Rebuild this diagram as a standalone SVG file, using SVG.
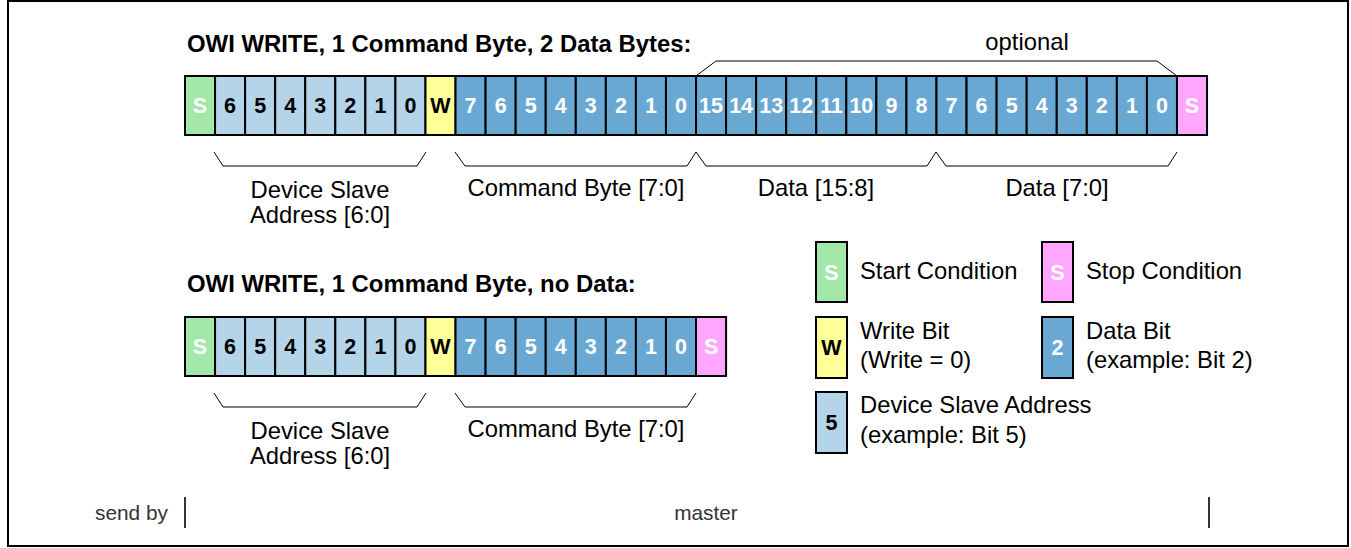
<svg xmlns="http://www.w3.org/2000/svg" width="1351" height="548" viewBox="0 0 1351 548">
<style>
.cell{stroke:#000;stroke-width:2}
.st{fill:#a3e8a8}.ad{fill:#b4d4ea}.wr{fill:#ffff99}.da{fill:#6aa8d4}.sp{fill:#ffa6ff}
.b{font-family:"Liberation Sans",Arial,sans-serif;font-weight:bold;font-size:21.5px;text-anchor:middle}
.w{fill:#fff}.k{fill:#000}
.t{font-family:"Liberation Sans",Arial,sans-serif;font-weight:bold;font-size:23.9px;fill:#000}
.l{font-family:"Liberation Sans",Arial,sans-serif;font-size:23.8px;fill:#000}
.m{text-anchor:middle}
.s{font-family:"Liberation Sans",Arial,sans-serif;font-size:20.8px;fill:#333}
.br{fill:none;stroke:#000;stroke-width:1}
</style>
<rect x="8" y="1" width="1340" height="545" fill="#fff" stroke="#000" stroke-width="2"/>
<text class="t" x="187" y="52">OWI WRITE, 1 Command Byte, 2 Data Bytes:</text>
<text class="l m" x="1027" y="50">optional</text>
<g id="row1">
<g id="r1-start"><rect class="cell st" x="185" y="76" width="30.06" height="59"/><text class="b w" x="200.03" y="113">S</text></g>
<g id="r1-a6"><rect class="cell ad" x="215.06" y="76" width="30.06" height="59"/><text class="b k" x="230.09" y="113">6</text></g>
<g id="r1-a5"><rect class="cell ad" x="245.12" y="76" width="30.06" height="59"/><text class="b k" x="260.15" y="113">5</text></g>
<g id="r1-a4"><rect class="cell ad" x="275.18" y="76" width="30.06" height="59"/><text class="b k" x="290.21" y="113">4</text></g>
<g id="r1-a3"><rect class="cell ad" x="305.24" y="76" width="30.06" height="59"/><text class="b k" x="320.27" y="113">3</text></g>
<g id="r1-a2"><rect class="cell ad" x="335.3" y="76" width="30.06" height="59"/><text class="b k" x="350.33" y="113">2</text></g>
<g id="r1-a1"><rect class="cell ad" x="365.36" y="76" width="30.06" height="59"/><text class="b k" x="380.39" y="113">1</text></g>
<g id="r1-a0"><rect class="cell ad" x="395.42" y="76" width="30.06" height="59"/><text class="b k" x="410.45" y="113">0</text></g>
<g id="r1-w"><rect class="cell wr" x="425.48" y="76" width="30.06" height="59"/><text class="b k" x="440.51" y="113">W</text></g>
<g id="r1-c7"><rect class="cell da" x="455.54" y="76" width="30.06" height="59"/><text class="b w" x="470.57" y="113">7</text></g>
<g id="r1-c6"><rect class="cell da" x="485.6" y="76" width="30.06" height="59"/><text class="b w" x="500.63" y="113">6</text></g>
<g id="r1-c5"><rect class="cell da" x="515.66" y="76" width="30.06" height="59"/><text class="b w" x="530.69" y="113">5</text></g>
<g id="r1-c4"><rect class="cell da" x="545.72" y="76" width="30.06" height="59"/><text class="b w" x="560.75" y="113">4</text></g>
<g id="r1-c3"><rect class="cell da" x="575.78" y="76" width="30.06" height="59"/><text class="b w" x="590.81" y="113">3</text></g>
<g id="r1-c2"><rect class="cell da" x="605.84" y="76" width="30.06" height="59"/><text class="b w" x="620.87" y="113">2</text></g>
<g id="r1-c1"><rect class="cell da" x="635.9" y="76" width="30.06" height="59"/><text class="b w" x="650.93" y="113">1</text></g>
<g id="r1-c0"><rect class="cell da" x="665.96" y="76" width="30.06" height="59"/><text class="b w" x="680.99" y="113">0</text></g>
<g id="r1-d15"><rect class="cell da" x="696.02" y="76" width="30.06" height="59"/><text class="b w" x="711.05" y="113">15</text></g>
<g id="r1-d14"><rect class="cell da" x="726.08" y="76" width="30.06" height="59"/><text class="b w" x="741.11" y="113">14</text></g>
<g id="r1-d13"><rect class="cell da" x="756.14" y="76" width="30.06" height="59"/><text class="b w" x="771.17" y="113">13</text></g>
<g id="r1-d12"><rect class="cell da" x="786.2" y="76" width="30.06" height="59"/><text class="b w" x="801.23" y="113">12</text></g>
<g id="r1-d11"><rect class="cell da" x="816.26" y="76" width="30.06" height="59"/><text class="b w" x="831.29" y="113">11</text></g>
<g id="r1-d10"><rect class="cell da" x="846.32" y="76" width="30.06" height="59"/><text class="b w" x="861.35" y="113">10</text></g>
<g id="r1-d9"><rect class="cell da" x="876.38" y="76" width="30.06" height="59"/><text class="b w" x="891.41" y="113">9</text></g>
<g id="r1-d8"><rect class="cell da" x="906.44" y="76" width="30.06" height="59"/><text class="b w" x="921.47" y="113">8</text></g>
<g id="r1-d7"><rect class="cell da" x="936.5" y="76" width="30.06" height="59"/><text class="b w" x="951.53" y="113">7</text></g>
<g id="r1-d6"><rect class="cell da" x="966.56" y="76" width="30.06" height="59"/><text class="b w" x="981.59" y="113">6</text></g>
<g id="r1-d5"><rect class="cell da" x="996.62" y="76" width="30.06" height="59"/><text class="b w" x="1011.65" y="113">5</text></g>
<g id="r1-d4"><rect class="cell da" x="1026.68" y="76" width="30.06" height="59"/><text class="b w" x="1041.71" y="113">4</text></g>
<g id="r1-d3"><rect class="cell da" x="1056.74" y="76" width="30.06" height="59"/><text class="b w" x="1071.77" y="113">3</text></g>
<g id="r1-d2"><rect class="cell da" x="1086.8" y="76" width="30.06" height="59"/><text class="b w" x="1101.83" y="113">2</text></g>
<g id="r1-d1"><rect class="cell da" x="1116.86" y="76" width="30.06" height="59"/><text class="b w" x="1131.89" y="113">1</text></g>
<g id="r1-d0"><rect class="cell da" x="1146.92" y="76" width="30.06" height="59"/><text class="b w" x="1161.95" y="113">0</text></g>
<g id="r1-stop"><rect class="cell sp" x="1176.98" y="76" width="30.06" height="59"/><text class="b w" x="1192.01" y="113">S</text></g>
</g>
<text class="t" x="187" y="292">OWI WRITE, 1 Command Byte, no Data:</text>
<g id="row2">
<g id="r2-start"><rect class="cell st" x="185" y="317" width="30.06" height="59"/><text class="b w" x="200.03" y="354">S</text></g>
<g id="r2-a6"><rect class="cell ad" x="215.06" y="317" width="30.06" height="59"/><text class="b k" x="230.09" y="354">6</text></g>
<g id="r2-a5"><rect class="cell ad" x="245.12" y="317" width="30.06" height="59"/><text class="b k" x="260.15" y="354">5</text></g>
<g id="r2-a4"><rect class="cell ad" x="275.18" y="317" width="30.06" height="59"/><text class="b k" x="290.21" y="354">4</text></g>
<g id="r2-a3"><rect class="cell ad" x="305.24" y="317" width="30.06" height="59"/><text class="b k" x="320.27" y="354">3</text></g>
<g id="r2-a2"><rect class="cell ad" x="335.3" y="317" width="30.06" height="59"/><text class="b k" x="350.33" y="354">2</text></g>
<g id="r2-a1"><rect class="cell ad" x="365.36" y="317" width="30.06" height="59"/><text class="b k" x="380.39" y="354">1</text></g>
<g id="r2-a0"><rect class="cell ad" x="395.42" y="317" width="30.06" height="59"/><text class="b k" x="410.45" y="354">0</text></g>
<g id="r2-w"><rect class="cell wr" x="425.48" y="317" width="30.06" height="59"/><text class="b k" x="440.51" y="354">W</text></g>
<g id="r2-c7"><rect class="cell da" x="455.54" y="317" width="30.06" height="59"/><text class="b w" x="470.57" y="354">7</text></g>
<g id="r2-c6"><rect class="cell da" x="485.6" y="317" width="30.06" height="59"/><text class="b w" x="500.63" y="354">6</text></g>
<g id="r2-c5"><rect class="cell da" x="515.66" y="317" width="30.06" height="59"/><text class="b w" x="530.69" y="354">5</text></g>
<g id="r2-c4"><rect class="cell da" x="545.72" y="317" width="30.06" height="59"/><text class="b w" x="560.75" y="354">4</text></g>
<g id="r2-c3"><rect class="cell da" x="575.78" y="317" width="30.06" height="59"/><text class="b w" x="590.81" y="354">3</text></g>
<g id="r2-c2"><rect class="cell da" x="605.84" y="317" width="30.06" height="59"/><text class="b w" x="620.87" y="354">2</text></g>
<g id="r2-c1"><rect class="cell da" x="635.9" y="317" width="30.06" height="59"/><text class="b w" x="650.93" y="354">1</text></g>
<g id="r2-c0"><rect class="cell da" x="665.96" y="317" width="30.06" height="59"/><text class="b w" x="680.99" y="354">0</text></g>
<g id="r2-stop"><rect class="cell sp" x="696.02" y="317" width="30.06" height="59"/><text class="b w" x="711.05" y="354">S</text></g>
</g>
<g id="connectors">
<path class="br" d="M696 76 L716 61 L1157 61 L1177 76" stroke="#444"/>
<path class="br" d="M214 152 L223 166 L417 166 L426 152"/>
<path class="br" d="M455 152 L465 166 L687 166 L696 152 L706 166 L927 166 L936 152 L946 166 L1168 166 L1177 152"/>
<path class="br" d="M214 393 L223 407 L417 407 L426 393"/>
<path class="br" d="M455 393 L465 407 L687 407 L696 393"/>
<path d="M185 497 V528 M1209 497 V528" stroke="#333" stroke-width="2"/>
</g>
<g id="labels1">
<text class="l m" x="320" y="198">Device Slave</text>
<text class="l m" x="320" y="223">Address [6:0]</text>
<text class="l m" x="576" y="196">Command Byte [7:0]</text>
<text class="l m" x="816" y="196">Data [15:8]</text>
<text class="l m" x="1057" y="196">Data [7:0]</text>
</g>
<g id="labels2">
<text class="l m" x="320" y="439">Device Slave</text>
<text class="l m" x="320" y="464">Address [6:0]</text>
<text class="l m" x="576" y="437">Command Byte [7:0]</text>
</g>
<g id="legend">
<g id="lg-start"><rect class="cell st" x="816" y="242" width="31" height="60"/><text class="b w" x="831.5" y="280">S</text><text class="l" x="860" y="279">Start Condition</text></g>
<g id="lg-stop"><rect class="cell sp" x="1042" y="242" width="31" height="60"/><text class="b w" x="1057.5" y="280">S</text><text class="l" x="1086" y="279">Stop Condition</text></g>
<g id="lg-write"><rect class="cell wr" x="816" y="317" width="31" height="61"/><text class="b k" x="831.5" y="355">W</text><text class="l" x="860" y="339">Write Bit</text><text class="l" x="860" y="368">(Write = 0)</text></g>
<g id="lg-data"><rect class="cell da" x="1042" y="317" width="31" height="61"/><text class="b w" x="1057.5" y="355">2</text><text class="l" x="1086" y="339">Data Bit</text><text class="l" x="1086" y="368">(example: Bit 2)</text></g>
<g id="lg-addr"><rect class="cell ad" x="816" y="392" width="31" height="61"/><text class="b k" x="831.5" y="430">5</text><text class="l" x="860" y="413">Device Slave Address</text><text class="l" x="860" y="443">(example: Bit 5)</text></g>
</g>
<g id="footer">
<text class="s" x="95" y="520">send by</text>
<text class="s m" x="706" y="520">master</text>
</g>
</svg>
